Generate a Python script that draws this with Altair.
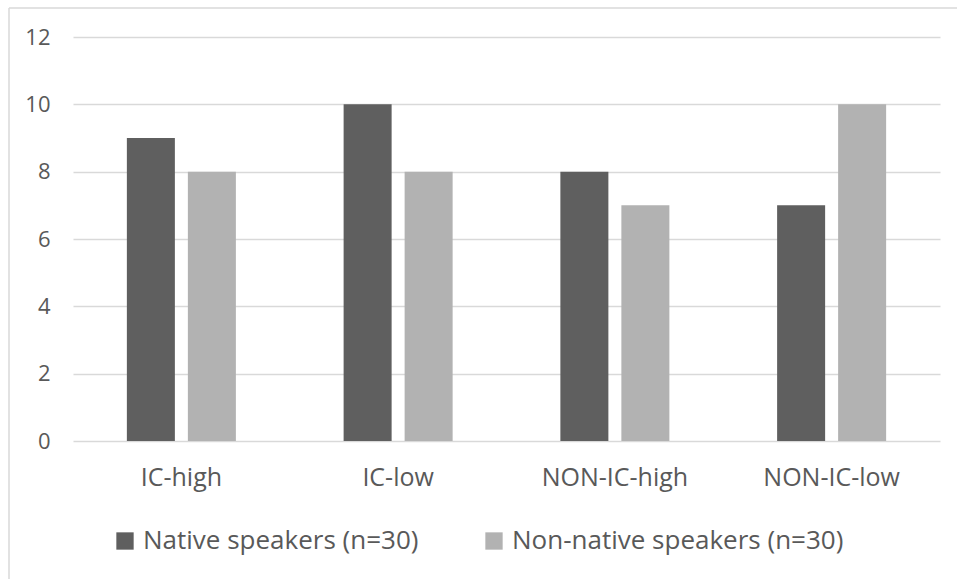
import altair as alt
import pandas as pd

categories = ["IC-high", "IC-low", "NON-IC-high", "NON-IC-low"]
groups = ["Native speakers (n=30)", "Non-native speakers (n=30)"]
native = [9, 10, 8, 7]
non_native = [8, 8, 7, 10]
y_ticks = [0, 2, 4, 6, 8, 10, 12]
colors = ["#5f5f5f", "#b2b2b2"]

rows = []
for cat, a, b in zip(categories, native, non_native):
    rows.append({"category": cat, "group": groups[0], "value": a})
    rows.append({"category": cat, "group": groups[1], "value": b})
df = pd.DataFrame(rows)

FONT = "Open Sans"
TEXT = "#595959"
GRID = "#d9d9d9"

bars = alt.Chart(df).mark_bar().encode(
    x=alt.X("category:N", sort=categories,
            scale=alt.Scale(paddingInner=0, paddingOuter=0),
            axis=alt.Axis(title=None, labelAngle=0, ticks=False, domain=False,
                          labelFontSize=25, labelColor=TEXT, labelFont=FONT,
                          labelPadding=24)),
    xOffset=alt.XOffset("group:N", sort=groups,
                        scale=alt.Scale(paddingInner=0.213, paddingOuter=0.883)),
    y=alt.Y("value:Q", scale=alt.Scale(domain=[0, 12]),
            axis=alt.Axis(title=None, values=y_ticks, ticks=False, domain=False,
                          grid=True, gridColor=GRID, gridWidth=1.6,
                          labelFontSize=22, labelColor=TEXT, labelFont=FONT,
                          labelPadding=23)),
    color=alt.Color("group:N", sort=groups,
                    scale=alt.Scale(domain=groups, range=colors),
                    legend=alt.Legend(title=None, orient="none", direction="horizontal",
                                      legendX=39, legendY=491,
                                      symbolType="square", symbolSize=300,
                                      symbolStrokeWidth=0,
                                      labelFontSize=26, labelColor=TEXT, labelFont=FONT,
                                      labelOffset=5, columnPadding=62,
                                      labelLimit=450)),
)

# light frame around the chart area
frame_top = alt.Chart().mark_rule(color=GRID, strokeWidth=1.5).encode(
    x=alt.value(-64), x2=alt.value(900), y=alt.value(-29))
frame_left = alt.Chart().mark_rule(color=GRID, strokeWidth=1.5).encode(
    x=alt.value(-64), y=alt.value(-29), y2=alt.value(560))

chart = alt.layer(frame_top, frame_left, bars).properties(
    width=867, height=404,
    autosize=alt.AutoSizeParams(type="none"),
    padding={"left": 73, "top": 37, "right": 17, "bottom": 138},
).configure_view(stroke=None)

chart.save("out.html", embed_options={"renderer": "svg", "actions": False})
